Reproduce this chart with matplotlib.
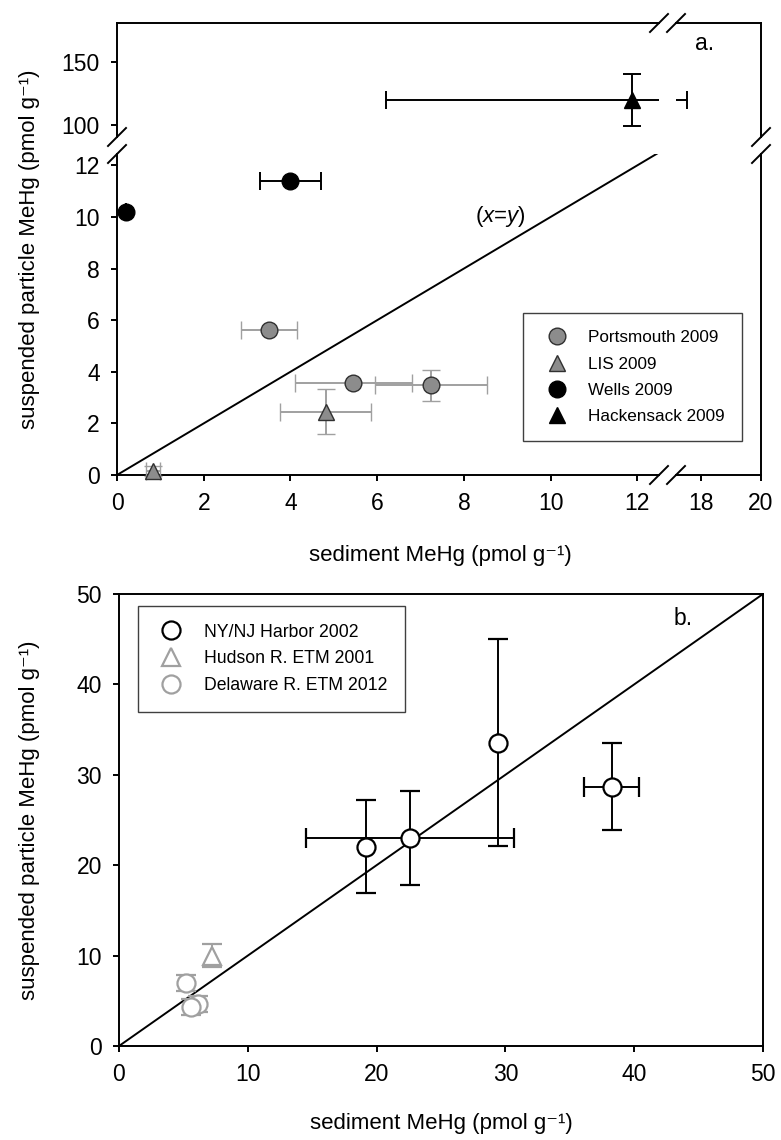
import numpy as np
import matplotlib
matplotlib.use("Agg")
import matplotlib.pyplot as plt
from matplotlib.lines import Line2D

plt.rcParams['font.family'] = ['Liberation Sans', 'DejaVu Sans']
plt.rcParams['mathtext.fontset'] = 'custom'
plt.rcParams['mathtext.rm'] = 'Liberation Sans'
plt.rcParams['mathtext.it'] = 'Liberation Sans:italic'
plt.rcParams['mathtext.default'] = 'regular'
plt.rcParams['axes.unicode_minus'] = False

# panel a
ports_x = [3.50, 5.45, 7.25]
ports_y = [5.63, 3.55, 3.48]
ports_xerr = [0.65, 1.35, 1.29]
ports_yerr = [0.0, 0.0, 0.6]

lis_x = [4.81, 0.83]
lis_y = [2.45, 0.16]
lis_xerr = [1.05, 0.16]
lis_yerr = [0.87, 0.2]

wells_x = [0.2, 4.0]
wells_y = [10.19, 11.39]
wells_xerr = [0.0, 0.70]

hack_x = [11.88]
hack_y = [119.8]
hack_xerr = [5.67]
hack_yerr = [20.5]

# panel b
harbor_x = [19.15, 22.6, 29.44, 38.24]
harbor_y = [22.06, 22.98, 33.57, 28.68]
harbor_xerr = [0.0, 8.1, 0.0, 2.1]
harbor_yerr = [5.15, 5.2, 11.4, 4.8]

hudson_x = [7.25]
hudson_y = [10.0]
hudson_yerr = [1.25]

delaware_x = [5.18, 6.15, 5.62]
delaware_y = [6.95, 4.65, 4.32]
delaware_yerr = [0.9, 0.9, 0.9]

XLABEL = 'sediment MeHg (pmol g\u207b\u00b9)'
YLABEL = 'suspended particle MeHg (pmol g\u207b\u00b9)'

W, H = 781, 1140
fig = plt.figure(figsize=(W / 100, H / 100), dpi=100)


def add_ax(l, t, r, b):
    return fig.add_axes([l / W, 1 - b / H, (r - l) / W, (b - t) / H])


LW = 1.4
GRAY = '#8c8c8c'
EGRAY = '#a0a0a0'
DARK = '#303030'

ax_ul = add_ax(117, 23, 659, 137)
ax_ur = add_ax(676, 23, 761, 137)
ax_ll = add_ax(117, 154, 659, 475)
ax_lr = add_ax(676, 154, 761, 475)
ax_b = add_ax(119, 594, 763, 1046)

for ax in [ax_ul, ax_ur, ax_ll, ax_lr, ax_b]:
    for s in ax.spines.values():
        s.set_linewidth(LW)
    ax.tick_params(direction='out', length=4.3, width=LW, pad=8, labelsize=16.5)
    ax.set_facecolor('none')

ax_ul.spines[['bottom', 'right']].set_visible(False)
ax_ur.spines[['bottom', 'left']].set_visible(False)
ax_ll.spines[['top', 'right']].set_visible(False)
ax_lr.spines[['top', 'left']].set_visible(False)

ax_ul.set_xlim(0, 12.5)
ax_ll.set_xlim(0, 12.5)
ax_ur.set_xlim(17.18, 20)
ax_lr.set_xlim(17.18, 20)
ax_ul.set_ylim(90.6, 180.5)
ax_ur.set_ylim(90.6, 180.5)
ax_ll.set_ylim(0, 12.44)
ax_lr.set_ylim(0, 12.44)

ax_ul.set_xticks([])
ax_ul.set_yticks([100, 150])
ax_ur.set_xticks([])
ax_ur.set_yticks([])
ax_ll.set_xticks(np.arange(0, 13, 2))
ax_ll.set_yticks(np.arange(0, 13, 2))
ax_lr.set_xticks([18, 20])
ax_lr.set_yticks([])

# x = y line
ax_ll.plot([0, 12.5], [0, 12.5], color='black', lw=LW, zorder=2)
ax_ll.text(8.83, 10.0, r'($\mathit{x}$=$\mathit{y}$)', fontsize=16,
           ha='center', va='center')

eb = dict(elinewidth=LW, capthick=LW, capsize=6.5, ms=12, zorder=3)
ax_ll.errorbar(ports_x, ports_y, xerr=ports_xerr, yerr=ports_yerr, fmt='o',
               mfc=GRAY, mec=DARK, mew=1, ecolor=EGRAY, **eb)
ax_ll.errorbar(lis_x, lis_y, xerr=lis_xerr, yerr=lis_yerr, fmt='^',
               mfc=GRAY, mec=DARK, mew=1, ecolor=EGRAY, clip_on=False, **eb)
ax_ll.errorbar(wells_x, wells_y, xerr=wells_xerr, fmt='o',
               mfc='black', mec='black', ecolor='black', **eb)
for ax in [ax_ul, ax_ur]:
    ax.errorbar(hack_x, hack_y, xerr=hack_xerr, yerr=hack_yerr, fmt='^',
                mfc='black', mec='black', ecolor='black', **eb)

# break marks
d = 9


def slash(xp, yp):
    fig.add_artist(Line2D([(xp - d) / W, (xp + d) / W],
                          [1 - (yp + d) / H, 1 - (yp - d) / H],
                          color='black', lw=LW))


for ax in [ax_ul, ax_ll]:
    p = ax.get_position()
    slash(p.x0 * W, (1 - p.y0) * H if ax is ax_ul else (1 - p.y1) * H)
for ax in [ax_ur, ax_lr]:
    p = ax.get_position()
    slash(p.x1 * W, (1 - p.y0) * H if ax is ax_ur else (1 - p.y1) * H)
for ax in [ax_ul, ax_ll]:
    p = ax.get_position()
    slash(p.x1 * W, (1 - p.y1) * H if ax is ax_ul else (1 - p.y0) * H)
for ax in [ax_ur, ax_lr]:
    p = ax.get_position()
    slash(p.x0 * W, (1 - p.y1) * H if ax is ax_ur else (1 - p.y0) * H)

handles_a = [
    Line2D([], [], ls='none', marker='o', ms=12, mfc=GRAY, mec=DARK, mew=1),
    Line2D([], [], ls='none', marker='^', ms=12, mfc=GRAY, mec=DARK, mew=1),
    Line2D([], [], ls='none', marker='o', ms=12, mfc='black', mec='black'),
    Line2D([], [], ls='none', marker='^', ms=12, mfc='black', mec='black'),
]
labels_a = ['Portsmouth 2009', 'LIS 2009', 'Wells 2009', 'Hackensack 2009']
leg = fig.legend(handles_a, labels_a, loc='upper left',
                 bbox_to_anchor=(522.7 / W, 1 - 313.3 / H), borderaxespad=0,
                 fontsize=12.3, fancybox=False, framealpha=1, edgecolor='#404040',
                 borderpad=1.0, labelspacing=0.66, handlelength=2.0,
                 handletextpad=0.85)
leg.get_frame().set_linewidth(1.0)

fig.text(705 / W, 1 - 44 / H, 'a.', fontsize=16.5, ha='center', va='center')
fig.text(440 / W, 1 - 555 / H, XLABEL, fontsize=16, ha='center', va='center')
fig.text(30 / W, 1 - 249 / H, YLABEL, fontsize=16, ha='center', va='center',
         rotation=90)

# panel b
ax_b.tick_params(top=False, right=False)
ax_b.set_xlim(0, 50)
ax_b.set_ylim(0, 50)
ax_b.set_xticks(np.arange(0, 51, 10))
ax_b.set_yticks(np.arange(0, 51, 10))
ax_b.plot([0, 50], [0, 50], color='black', lw=LW, zorder=2)

eb2 = dict(elinewidth=LW, capthick=LW, capsize=7, ms=13, zorder=3, mew=1.6)
ax_b.errorbar(harbor_x, harbor_y, xerr=harbor_xerr, yerr=harbor_yerr, fmt='o',
              mfc='white', mec='black', ecolor='black', **eb2)
ax_b.errorbar(hudson_x, hudson_y, yerr=hudson_yerr, fmt='^',
              mfc='white', mec=EGRAY, ecolor=EGRAY, **eb2)
ax_b.errorbar(delaware_x, delaware_y, yerr=delaware_yerr, fmt='o',
              mfc='white', mec=EGRAY, ecolor=EGRAY, **eb2)

handles_b = [
    Line2D([], [], ls='none', marker='o', ms=13, mfc='white', mec='black', mew=1.6),
    Line2D([], [], ls='none', marker='^', ms=13, mfc='white', mec=EGRAY, mew=1.6),
    Line2D([], [], ls='none', marker='o', ms=13, mfc='white', mec=EGRAY, mew=1.6),
]
labels_b = ['NY/NJ Harbor 2002', 'Hudson R. ETM 2001', 'Delaware R. ETM 2012']
leg_b = ax_b.legend(handles_b, labels_b, loc='upper left',
                    bbox_to_anchor=((138 - 119) / 644, (1046 - 606) / 452),
                    borderaxespad=0, fontsize=12.7, fancybox=False, framealpha=1,
                    edgecolor='#404040', borderpad=1.0, labelspacing=0.55,
                    handlelength=1.75, handletextpad=1.0)
leg_b.get_frame().set_linewidth(1.0)

ax_b.text(43.8, 47.3, 'b.', fontsize=16.5, ha='center', va='center')
fig.text(441 / W, 1 - 1124 / H, XLABEL, fontsize=16, ha='center', va='center')
fig.text(30 / W, 1 - 820 / H, YLABEL, fontsize=16, ha='center', va='center',
         rotation=90)

fig.savefig('out.png', dpi=100)
